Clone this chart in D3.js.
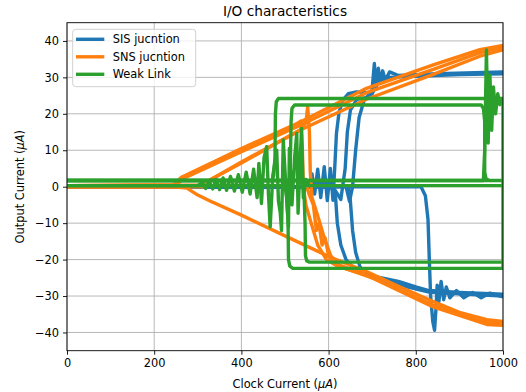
<!DOCTYPE html>
<html><head><meta charset="utf-8">
<script src="https://cdn.jsdelivr.net/npm/d3@7"></script>
<style>body{margin:0;background:#fff}svg{display:block;font-family:"DejaVu Sans",sans-serif}</style>
</head><body><svg id="c" width="526" height="392"></svg>
<script>
const title = "I/O characteristics";
const xLabel = "Clock Current (";
const yLabel = "Output Current (";
const xTicks = [0,200,400,600,800,1000];
const yTicks = [-40,-30,-20,-10,0,10,20,30,40];
const seriesNames = ["SIS jucntion","SNS jucntion","Weak Link"];
const seriesColors = ["#1f77b4","#ff7f0e","#2ca02c"];

// SIS junction traces [clock, output]
const sisTraces = [
  [[0,0],[555,0],[562,3.5],[568,-2],[575,4.8],[582,-3],[590,5.5],[597,-3.8],[604,5],[610,-3.7],[614,5],[618,14.6],[624,20.5],[633,23.8],[645,25.5],[664,26],[690,25.8],[699,25.6],[705,33.8],[709,27],[714,32.5],[719,28.5],[724,31.8],[730,29.2],[740,31.5],[760,30.5],[850,31],[1000,31.5]],
  [[0,0],[600,0],[615,-1],[628,-3.5],[638,5],[643,15],[650,21],[665,24],[690,24.5],[700,25.5],[712,28.5],[740,30],[800,30.3],[900,30.8],[1000,31]],
  [[640,0],[648,-4],[655,0],[662,10],[670,19],[682,24],[693,25.2]],
  [[0,0],[610,0],[616,-3],[620,-10],[628,-16],[640,-20],[655,-22],[670,-23],[700,-24.5],[760,-26],[800,-27.5],[830,-28.5],[900,-29],[1000,-29.5]],
  [[0,0],[645,0],[650,-4],[655,-12],[662,-18],[672,-22],[688,-24.3],[720,-25.5],[780,-27.5],[833,-29],[1000,-30]],
  [[0,0],[812,0],[822,-2.5],[828,-9],[831,-20],[834,-30],[839,-37],[843,-39.4],[846,-34],[849,-27],[853,-31.5],[858,-26],[864,-31],[870,-27.5],[878,-30.5],[893,-28.5],[910,-30.5],[930,-29],[950,-30.5],[970,-29.2],[1000,-30.2]]
];

// SNS junction traces
const snsTraces = [
  [[0,0.3],[244,0.5],[262,2.5],[400,10.5],[534,17.7],[687,27],[840,33.4],[947,37.6],[1000,38.8]],
  [[0,0.3],[250,0.5],[268,2.3],[400,9.6],[534,16.8],[687,25.8],[840,32.2],[947,36.8],[1000,38.3]],
  [[0,0.3],[313,0.5],[330,2],[400,6.5],[534,15.5],[687,24],[840,30.8],[947,35.8],[1000,37.6]],
  [[0,0],[244,0],[275,-0.4],[300,-2.3],[328,-3.9],[400,-7.8],[500,-13.5],[603,-19.3],[687,-23.3],[760,-27.3],[840,-31.5],[900,-34.5],[963,-36.5],[1000,-37]],
  [[0,0],[244,0],[262,2.5],[400,10.2],[520,16.6],[536,18],[540,10],[542,0],[548,-5],[560,-10],[575,-16],[595,-20],[620,-21.8],[687,-24.3],[840,-33],[963,-37.8],[1000,-38]],
  [[0,0],[313,0],[330,2],[400,6.8],[534,15.5],[548,17.5],[552,22],[556,15],[558,4],[562,-3],[575,-8],[590,-14],[605,-19],[625,-21.5],[660,-23],[687,-23.3]],
  [[550,0],[555,-2],[565,-5],[572,-12],[578,-10],[585,-16],[592,-14],[600,-19],[615,-21],[640,-22.5],[700,-25],[840,-32.5],[963,-37.2],[1000,-37.5]]
];

// Weak link traces
const wlTraces = [
  [[0,1.7],[1000,1.7]],
  [[0,0.3],[300,0.3],[310,1.2],[318,-0.5],[326,1.5],[334,-0.6],[342,2],[350,-0.8],[358,2.4],[366,-1],[375,2.8],[384,-1.2],[393,3.3],[402,-1.5],[411,4],[420,-2],[428,4.8],[436,-3],[440,6.4],[446,-4.6],[452,8],[458,11],[462,-2],[466,-11],[472,3],[481,10],[485,-4],[489,-7],[492,-12],[496,12.8],[502,0],[508,-11],[510,10.5],[516,-5],[522,8],[527,14.6],[530,-7.3],[534,5],[538,16],[542,-3],[548,2],[555,0.3],[1000,0.3]],
  [[0,1.7],[470,1.7],[474,3],[477,8],[478,20],[480,23.3],[485,24.2],[1000,24.2],[1000,-22.4]],
  [[0,0.3],[510,0.3],[512,5],[514,18],[516,21.5],[522,22.4],[950,22.4],[955,21.5],[958,18],[958,4],[961,2.2],[968,1.7]],
  [[0,0.3],[500,0.3],[504,-3],[507,-10],[508,-20],[511,-21.8],[518,-22.4],[1000,-22.4]],
  [[0,1.7],[540,1.7],[544,-3],[546,-10],[547,-19],[550,-20.4],[556,-20.7],[1000,-20.7]],
  [[0,1.7],[955,1.7],[958,10],[962,37.5],[966,12],[970,30.6],[974,15.5],[978,27.4],[983,20],[988,25.5],[993,22.5],[1000,24]]
];

const svg = d3.select("#c");
const L = 67, R = 503, T = 22.7, B = 350.7;
const x = d3.scaleLinear().domain([0,1000]).range([L,R]);
const y = d3.scaleLinear().domain([-45,45]).range([B,T]);

// grid
const g = svg.append("g");
g.selectAll(".gx").data(xTicks).join("line").attr("x1",d=>x(d)).attr("x2",d=>x(d)).attr("y1",T).attr("y2",B).attr("stroke","#b0b0b0").attr("stroke-width",0.9);
g.selectAll(".gy").data(yTicks).join("line").attr("y1",d=>y(d)).attr("y2",d=>y(d)).attr("x1",L).attr("x2",R).attr("stroke","#b0b0b0").attr("stroke-width",0.9);

svg.append("clipPath").attr("id","clip").append("rect").attr("x",L).attr("y",T).attr("width",R-L).attr("height",B-T);
const line = d3.line().x(d=>x(d[0])).y(d=>y(d[1]));
const plot = svg.append("g").attr("clip-path","url(#clip)");
[sisTraces, snsTraces, wlTraces].forEach((tr,i)=>{
  plot.append("g").selectAll("path").data(tr).join("path").attr("d",line)
    .attr("fill","none").attr("stroke",seriesColors[i]).attr("stroke-width",3.4)
    .attr("stroke-linejoin","round").attr("stroke-linecap","butt");
});

// axes
const fmt = d => (d<0? "\u2212"+Math.abs(d) : String(d));
const xa = svg.append("g").attr("transform",`translate(0,${B})`).call(d3.axisBottom(x).tickValues(xTicks).tickFormat(fmt).tickSize(4).tickPadding(4));
const ya = svg.append("g").attr("transform",`translate(${L},0)`).call(d3.axisLeft(y).tickValues(yTicks).tickFormat(fmt).tickSize(4).tickPadding(4));
[xa,ya].forEach(a=>{a.select(".domain").remove();a.selectAll("text").attr("font-size",11.4).attr("fill","#000").attr("font-family","DejaVu Sans");a.selectAll("line").attr("stroke","#000").attr("stroke-width",0.9);});
svg.append("rect").attr("x",L).attr("y",T).attr("width",R-L).attr("height",B-T).attr("fill","none").attr("stroke","#000").attr("stroke-width",0.9);

// labels
svg.append("text").attr("x",(L+R)/2).attr("y",15.5).attr("text-anchor","middle").attr("font-size",13.7).text(title);
const xl = svg.append("text").attr("x",(L+R)/2).attr("y",387.5).attr("text-anchor","middle").attr("font-size",11.4);
xl.append("tspan").text(xLabel); xl.append("tspan").attr("font-style","italic").text("\u03bcA"); xl.append("tspan").text(")");
const yl = svg.append("text").attr("transform",`translate(24,${(T+B)/2}) rotate(-90)`).attr("text-anchor","middle").attr("font-size",11.4);
yl.append("tspan").text(yLabel); yl.append("tspan").attr("font-style","italic").text("\u03bcA"); yl.append("tspan").text(")");

// legend
const lg = svg.append("g");
lg.append("rect").attr("x",72.7).attr("y",29.3).attr("width",123).attr("height",57.4).attr("rx",3).attr("fill","#fff").attr("fill-opacity",0.8).attr("stroke","#cccccc").attr("stroke-width",0.9);
seriesNames.forEach((n,i)=>{
  const yy = 39.3 + i*17.5;
  lg.append("line").attr("x1",76).attr("x2",104.3).attr("y1",yy).attr("y2",yy).attr("stroke",seriesColors[i]).attr("stroke-width",3.4);
  lg.append("text").attr("x",112.7).attr("y",yy+4).attr("font-size",11.4).text(n);
});
</script></body></html>
